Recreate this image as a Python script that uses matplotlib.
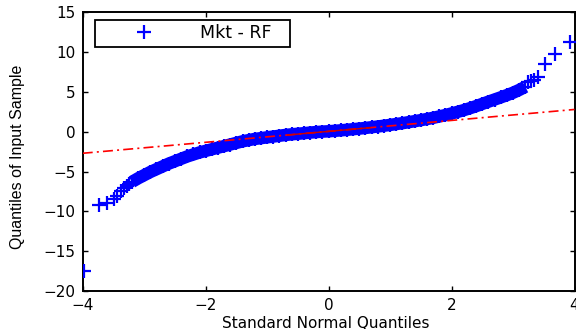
import matplotlib
matplotlib.use("Agg")
import matplotlib.pyplot as plt

# quantile plot of Mkt - RF
q_lower = [-3.98, -3.74, -3.60, -3.49, -3.44, -3.38, -3.33, -3.28, -3.24]
v_lower = [-17.5, -9.2, -8.95, -8.5, -8.1, -7.5, -7.1, -6.8, -6.5]

q_body = [-3.2, -3.1, -3.0, -2.9, -2.8, -2.7, -2.6, -2.5, -2.4, -2.3, -2.2, -2.1,
          -2.0, -1.9, -1.8, -1.7, -1.6, -1.5, -1.4, -1.3, -1.2, -1.1, -1.0, -0.9,
          -0.8, -0.7, -0.6, -0.5, -0.4, -0.3, -0.2, -0.1, 0.0, 0.1, 0.2, 0.3,
          0.4, 0.5, 0.6, 0.7, 0.8, 0.9, 1.0, 1.1, 1.2, 1.3, 1.4, 1.5,
          1.6, 1.7, 1.8, 1.9, 2.0, 2.1, 2.2, 2.3, 2.4, 2.5, 2.6, 2.7,
          2.8, 2.9, 3.0, 3.1, 3.2]
v_body = [-6.3, -5.85, -5.45, -5.05, -4.7, -4.35, -4.0, -3.7, -3.4, -3.1, -2.85, -2.6,
          -2.4, -2.2, -2.0, -1.8, -1.6, -1.4, -1.2, -1.05, -0.9, -0.8, -0.7, -0.6,
          -0.5, -0.4, -0.32, -0.25, -0.18, -0.1, -0.04, 0.02, 0.06, 0.12, 0.18, 0.25,
          0.32, 0.4, 0.48, 0.57, 0.66, 0.76, 0.86, 0.97, 1.08, 1.2, 1.33, 1.46,
          1.6, 1.75, 1.92, 2.1, 2.3, 2.5, 2.72, 2.96, 3.22, 3.5, 3.78, 4.05,
          4.32, 4.6, 4.9, 5.25, 5.65]

q_upper = [3.25, 3.29, 3.34, 3.40, 3.52, 3.69, 3.93]
v_upper = [6.2, 6.4, 6.55, 6.85, 8.5, 9.8, 11.3]

# fitted reference line (dash-dot) and the solid part between the quartiles
line_q = [-4.0, 4.0]
line_v = [-2.7, 2.8]
quart_q = [-0.67, 0.67]
quart_v = [-0.41, 0.51]

q_all = q_lower + q_body + q_upper
v_all = v_lower + v_body + v_upper

fig = plt.figure(figsize=(5.76, 3.29), dpi=100)
ax = fig.add_axes([0.1436, 0.1155, 0.8538, 0.847])

# dense middle of the sample shows as a solid band of markers
ax.plot(q_body, v_body, '-', color='#0000ff', lw=9, solid_capstyle='butt', zorder=2)
ax.plot(q_all, v_all, '+', color='#0000ff', ms=10, mew=1.6, label='Mkt - RF', zorder=3)
ax.plot(line_q, line_v, '-.', color='#ff0000', lw=1.2, dashes=(6, 2.5, 1.2, 2.5), zorder=4)
ax.plot(quart_q, quart_v, '-', color='#cc0000', lw=1.0, zorder=4)

ax.set_xlim(-4, 4)
ax.set_ylim(-20, 15)
ax.set_xticks([-4, -2, 0, 2, 4])
ax.set_yticks([-20, -15, -10, -5, 0, 5, 10, 15])
ax.tick_params(direction='in', top=True, right=True, length=3.5, width=1,
               labelsize=11, pad=5, colors='black')
for s in ax.spines.values():
    s.set_linewidth(1.4)

ax.set_xlabel('Standard Normal Quantiles', fontsize=11)
ax.xaxis.set_label_coords(0.495, -0.088)
ax.set_ylabel('Quantiles of Input Sample', fontsize=11.5, family=['Liberation Sans', 'DejaVu Sans'])
ax.yaxis.set_label_coords(-0.118, 0.48)

leg = ax.legend(loc='upper left', bbox_to_anchor=(0.025, 0.972, 0.396, 0.0),
                mode='expand', borderaxespad=0, fancybox=False, framealpha=1,
                edgecolor='black', fontsize=12.5, handlelength=5.2,
                handletextpad=0.6, borderpad=0.25)
leg.get_frame().set_linewidth(1.3)

fig.savefig('out.png', dpi=100)
